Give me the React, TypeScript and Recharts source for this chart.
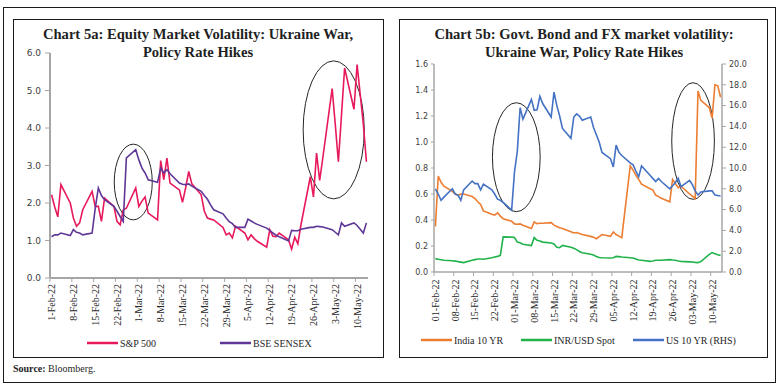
import React from 'react';
import { LineChart, Line, XAxis, YAxis, ReferenceArea } from 'recharts';

// trading days, counted in calendar days from 1-Feb-22 (a Tuesday); weekends skipped
const tradingDays: number[] = [];
for (let d = 0; d <= 101; d++) {
  if (d % 7 !== 4 && d % 7 !== 5) tradingDays.push(d);
}

const tickDays = [0, 7, 14, 21, 28, 35, 42, 49, 56, 63, 70, 77, 84, 91, 98];
const leftTickLabels = [
  '1-Feb-22', '8-Feb-22', '15-Feb-22', '22-Feb-22', '1-Mar-22', '8-Mar-22', '15-Mar-22', '22-Mar-22',
  '29-Mar-22', '5-Apr-22', '12-Apr-22', '19-Apr-22', '26-Apr-22', '3-May-22', '10-May-22',
];
const rightTickLabels = [
  '01-Feb-22', '08-Feb-22', '15-Feb-22', '22-Feb-22', '01-Mar-22', '08-Mar-22', '15-Mar-22', '22-Mar-22',
  '29-Mar-22', '05-Apr-22', '12-Apr-22', '19-Apr-22', '26-Apr-22', '03-May-22', '10-May-22',
];

// Chart 5a
const sp500 = [
  2.22, 1.9, 1.63, 2.49,
  2.0, 1.6, 1.38, 1.47, 1.82,
  2.31, 1.91, 1.91, 1.51, 2.13,
  1.91, 1.51, 1.42, 1.82, 1.86,
  2.4, 1.91, 2.05, 2.16, 1.73,
  1.55, 3.13, 2.62, 3.2, 2.53,
  2.35, 2.02, 2.4, 2.84, 2.51,
  2.22, 1.78, 1.6, 1.57, 1.55,
  1.35, 1.15, 1.2, 1.07, 1.38,
  1.2, 1.02, 1.15, 1.05, 0.98,
  0.82, 1.29, 1.11, 1.1, 1.2,
  1.02, 0.77, 1.09, 0.91, 1.42,
  2.7, 2.16, 3.33, 2.6, 3.2,
  5.05, 4.1, 3.1, 4.35, 5.6,
  4.5, 5.69, 4.9, 4.1, 3.1,
];
const sensex = [
  1.1, 1.15, 1.15, 1.2,
  1.13, 1.29, 1.22, 1.2, 1.15,
  1.2, 1.85, 2.4, 2.2, 2.09,
  1.91, 1.78, 1.64, 1.51, 3.2,
  3.42, 3.15, 2.93, 2.8, 2.62,
  2.55, 2.93, 2.8, 2.89, 2.78,
  2.53, 2.5, 2.49, 2.51, 2.45,
  2.31, 2.2, 2.1, 1.95, 1.82,
  1.71, 1.6, 1.5, 1.45, 1.35,
  1.35, 1.57, 1.52, 1.47, 1.43,
  1.33, 1.27, 1.2, 1.14, 1.1,
  0.99, 1.27, 1.26, 1.26, 1.3,
  1.35, 1.35, 1.38, 1.37, 1.36,
  1.29, 1.22, 1.15, 1.47, 1.38,
  1.47, 1.4, 1.3, 1.2, 1.47,
];

// Chart 5b
const india10y = [
  0.35, 0.737, 0.69, 0.66,
  0.62, 0.6, 0.59, 0.6, 0.6,
  0.58, 0.565, 0.54, 0.52, 0.47,
  0.444, 0.437, 0.455, 0.43, 0.41,
  0.39, 0.37, 0.367, 0.37, 0.36,
  0.334, 0.385, 0.372, 0.375, 0.375,
  0.38, 0.36, 0.35, 0.34, 0.334,
  0.31, 0.3, 0.304, 0.296, 0.288,
  0.274, 0.268, 0.256, 0.272, 0.288,
  0.274, 0.308, 0.288, 0.276, 0.264,
  0.816, 0.784, 0.744, 0.712, 0.676,
  0.64, 0.632, 0.592, 0.58, 0.568,
  0.54, 0.712, 0.68, 0.648, 0.66,
  0.6, 0.584, 0.565, 1.392, 1.32,
  1.264, 1.184, 1.44, 1.432, 1.344,
];
const inrUsd = [
  0.103, 0.098, 0.094, 0.09,
  0.086, 0.084, 0.08, 0.076, 0.072,
  0.09, 0.095, 0.1, 0.1, 0.098,
  0.11, 0.116, 0.12, 0.128, 0.27,
  0.268, 0.265, 0.23, 0.225, 0.213,
  0.203, 0.265, 0.244, 0.238, 0.23,
  0.223, 0.215, 0.19, 0.187, 0.205,
  0.19, 0.182, 0.172, 0.158, 0.148,
  0.136, 0.13, 0.12, 0.112, 0.11,
  0.108, 0.11, 0.12, 0.118, 0.115,
  0.11, 0.108, 0.1, 0.092, 0.09,
  0.082, 0.085, 0.09, 0.09, 0.09,
  0.095, 0.092, 0.09, 0.085, 0.082,
  0.078, 0.077, 0.074, 0.072, 0.08,
  0.135, 0.149, 0.14, 0.132, 0.128,
];
const us10y = [
  8.0, 7.5, 6.9, 7.2,
  8.0, 7.5, 7.4, 6.9, 7.9,
  8.75, 8.5, 8.5, 7.9, 8.45,
  7.9, 7.5, 7.0, 6.9, 6.7,
  5.95, 9.6, 11.6, 15.8, 14.7,
  16.6, 15.55, 15.6, 16.9, 16.2,
  14.9, 17.3, 16.0, 15.0, 13.8,
  12.85, 14.9, 15.2, 15.0, 14.6,
  14.9, 13.9, 13.2, 12.5, 11.5,
  10.9, 10.1, 12.2, 11.5, 11.2,
  10.5, 10.3, 9.7, 9.15, 10.2,
  9.3, 9.0, 8.7, 9.0, 8.7,
  8.0, 8.3, 8.6, 9.0, 8.2,
  8.8, 8.4, 7.8, 7.4, 7.7,
  7.8, 7.8, 7.4, 7.35, 7.3,
];

// circled regions, in data units (day, value on the left axis)
const leftCircles = [
  { x1: 20.1, x2: 32.3, y1: 1.55, y2: 3.57 },
  { x1: 80.7, x2: 100.3, y1: 2.11, y2: 5.79 },
];
const rightCircles = [
  { x1: 20.2, x2: 37.1, y1: 0.464, y2: 1.302 },
  { x1: 83.7, x2: 98.8, y1: 0.559, y2: 1.456 },
];

const leftTicksY = [0, 1, 2, 3, 4, 5, 6];
const rightTicksL = [0, 0.2, 0.4, 0.6, 0.8, 1.0, 1.2, 1.4, 1.6];
const rightTicksR = [0, 2, 4, 6, 8, 10, 12, 14, 16, 18, 20];

const equityData = tradingDays.map((day, i) => ({ day, sp: sp500[i], bse: sensex[i] }));
const bondData = tradingDays.map((day, i) => ({ day, india: india10y[i], inr: inrUsd[i], us: us10y[i] }));

const SERIF = '"Liberation Serif", "Times New Roman", serif';
const SANS = '"DejaVu Sans", Verdana, sans-serif';
const AXIS = '#a6a6a6';

function DateTick(props: any) {
  const { x, y, payload, labels, half, gap } = props;
  const label = labels[Math.round(payload.value / 7)];
  const ty = y + gap;
  return (
    <g>
      <line x1={x - half} x2={x - half} y1={y} y2={y + 4} stroke={AXIS} strokeWidth={1} />
      <text
        x={x}
        y={ty}
        transform={`rotate(-90 ${x} ${ty})`}
        textAnchor="end"
        dy="0.35em"
        fontSize={10}
        fontFamily={SERIF}
        fill="#262626"
      >
        {label}
      </text>
    </g>
  );
}

const ellipseShape = (p: any) => (
  <ellipse
    cx={p.x + p.width / 2}
    cy={p.y + p.height / 2}
    rx={Math.abs(p.width) / 2}
    ry={Math.abs(p.height) / 2}
    fill="none"
    stroke="#262626"
    strokeWidth={1}
  />
);

function LegendItem({ x, y, color, label }: { x: number; y: number; color: string; label: string }) {
  return (
    <g>
      <line x1={x} x2={x + 31} y1={y} y2={y} stroke={color} strokeWidth={2.5} />
      <text x={x + 33} y={y + 3.5} fontSize={10} fontFamily={SERIF} fill="#262626">
        {label}
      </text>
    </g>
  );
}

export default function App() {
  return (
    <div style={{ position: 'relative', width: 782, height: 388, background: '#fff' }}>
      <style>{'body{margin:0}'}</style>

      {/* frames, titles, legends, source */}
      <svg width={782} height={388} style={{ position: 'absolute', left: 0, top: 0 }}>
        <rect x={3.5} y={7.5} width={772} height={375} fill="none" stroke="#1a1a1a" strokeWidth={1} />
        <rect x={13.5} y={19.5} width={370} height={338} fill="none" stroke="#1a1a1a" strokeWidth={1} />
        <rect x={399.5} y={19.5} width={368} height={338} fill="none" stroke="#1a1a1a" strokeWidth={1} />

        <g fontFamily={SERIF} fontWeight="bold" fontSize={14.6} fill="#1f1f1f" textAnchor="middle">
          <text x={198} y={39}>Chart 5a: Equity Market Volatility: Ukraine War,</text>
          <text x={198} y={57}>Policy Rate Hikes</text>
          <text x={584} y={39}>Chart 5b: Govt. Bond and FX market volatility:</text>
          <text x={584} y={57}>Ukraine War, Policy Rate Hikes</text>
        </g>

        <LegendItem x={87} y={343} color="#e8195b" label="S&P 500" />
        <LegendItem x={220} y={343} color="#5f3796" label="BSE SENSEX" />
        <LegendItem x={421} y={340} color="#ed7d31" label="India 10 YR" />
        <LegendItem x={521} y={340} color="#21b24b" label="INR/USD Spot" />
        <LegendItem x={633} y={340} color="#4472c4" label="US 10 YR (RHS)" />

        <text x={13} y={372} fontSize={10} fontFamily={SERIF} fill="#1f1f1f">
          <tspan fontWeight="bold">Source:</tspan> Bloomberg.
        </text>
      </svg>

      {/* Chart 5a */}
      <div style={{ position: 'absolute', left: 0, top: 0 }}>
        <LineChart width={390} height={330} data={equityData} margin={{ top: 53, right: 22, bottom: 0, left: 14 }}>
          <XAxis
            dataKey="day"
            type="number"
            domain={[-0.5, 101.5]}
            ticks={tickDays}
            interval={0}
            height={52}
            axisLine={{ stroke: AXIS, strokeWidth: 2 }}
            tickLine={false}
            tickSize={0}
            tickMargin={0}
            tick={<DateTick labels={leftTickLabels} half={1.56} gap={6} />}
          />
          <YAxis
            domain={[0, 6]}
            ticks={leftTicksY}
            width={36}
            tickFormatter={(v: number) => v.toFixed(1)}
            axisLine={{ stroke: AXIS, strokeWidth: 2 }}
            tickLine={{ stroke: AXIS }}
            tickSize={5}
            tickMargin={4}
            tick={{ fontSize: 9, fontFamily: SANS, fill: '#404040' }}
          />
          {leftCircles.map((c, i) => (
            <ReferenceArea key={i} x1={c.x1} x2={c.x2} y1={c.y1} y2={c.y2} shape={ellipseShape} ifOverflow="visible" />
          ))}
          <Line type="linear" dataKey="sp" stroke="#e8195b" strokeWidth={1.6} dot={false} isAnimationActive={false} />
          <Line type="linear" dataKey="bse" stroke="#5f3796" strokeWidth={1.6} dot={false} isAnimationActive={false} />
        </LineChart>
      </div>

      {/* Chart 5b */}
      <div style={{ position: 'absolute', left: 392, top: 0 }}>
        <LineChart width={390} height={330} data={bondData} margin={{ top: 64, right: 20, bottom: 0, left: 6 }}>
          <XAxis
            dataKey="day"
            type="number"
            domain={[-0.5, 101.5]}
            ticks={tickDays}
            interval={0}
            height={58}
            axisLine={{ stroke: AXIS, strokeWidth: 1.5 }}
            tickLine={false}
            tickSize={0}
            tickMargin={0}
            tick={<DateTick labels={rightTickLabels} half={1.41} gap={7.5} />}
          />
          <YAxis
            yAxisId="left"
            domain={[0, 1.6]}
            ticks={rightTicksL}
            width={36}
            tickFormatter={(v: number) => v.toFixed(1)}
            axisLine={{ stroke: AXIS, strokeWidth: 1.5 }}
            tickLine={{ stroke: AXIS }}
            tickSize={3}
            tickMargin={3}
            tick={{ fontSize: 8, fontFamily: SANS, fill: '#404040' }}
          />
          <YAxis
            yAxisId="right"
            orientation="right"
            domain={[0, 20]}
            ticks={rightTicksR}
            width={40}
            tickFormatter={(v: number) => v.toFixed(1)}
            axisLine={{ stroke: AXIS, strokeWidth: 1.5 }}
            tickLine={{ stroke: AXIS }}
            tickSize={4}
            tickMargin={3}
            tick={{ fontSize: 8, fontFamily: SANS, fill: '#404040' }}
          />
          {rightCircles.map((c, i) => (
            <ReferenceArea
              key={i}
              yAxisId="left"
              x1={c.x1}
              x2={c.x2}
              y1={c.y1}
              y2={c.y2}
              shape={ellipseShape}
              ifOverflow="visible"
            />
          ))}
          <Line yAxisId="left" type="linear" dataKey="india" stroke="#ed7d31" strokeWidth={1.6} dot={false} isAnimationActive={false} />
          <Line yAxisId="left" type="linear" dataKey="inr" stroke="#21b24b" strokeWidth={1.6} dot={false} isAnimationActive={false} />
          <Line yAxisId="right" type="linear" dataKey="us" stroke="#4472c4" strokeWidth={1.6} dot={false} isAnimationActive={false} />
        </LineChart>
      </div>
    </div>
  );
}
